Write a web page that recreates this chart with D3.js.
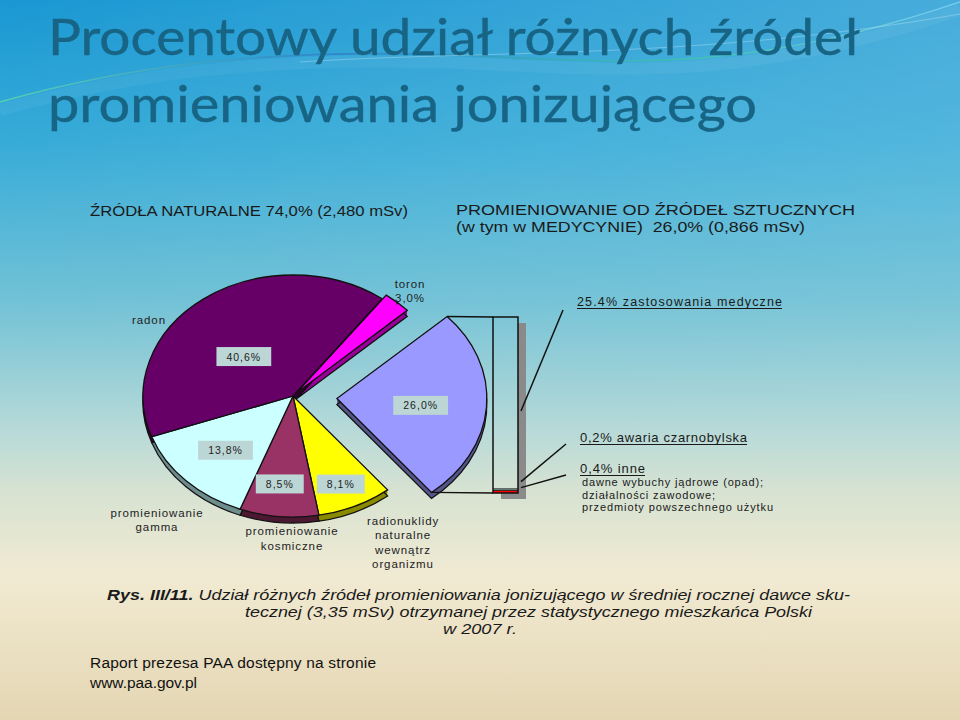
<!DOCTYPE html>
<html><head><meta charset="utf-8">
<script src="https://cdn.jsdelivr.net/npm/d3@7"></script>
<style>body{margin:0;background:#fff} svg{display:block}</style>
</head><body>
<svg id="c" width="960" height="720"></svg>
<script>
// ---------- DATA ----------
const titleLines = ["Procentowy udział różnych źródeł", "promieniowania jonizującego"];
const headerLeft = "ŹRÓDŁA NATURALNE 74,0% (2,480 mSv)";
const headerRight = ["PROMIENIOWANIE OD ŹRÓDEŁ SZTUCZNYCH", "(w tym w MEDYCYNIE)  26,0% (0,866 mSv)"];
const categories = ["toron", "sztuczne", "radionuklidy", "kosmiczne", "gamma", "radon"];
const values = [3.0, 26.0, 8.1, 8.5, 13.8, 40.6];
const valueLabels = ["3,0%", "26,0%", "8,1%", "8,5%", "13,8%", "40,6%"];
const outerNames = [["toron", "3,0%"], [], ["radionuklidy", "naturalne", "wewnątrz", "organizmu"],
                    ["promieniowanie", "kosmiczne"], ["promieniowanie", "gamma"], ["radon"]];
const barCategories = ["inne", "awaria", "medyczne"];
const barValues = [0.4, 0.2, 25.4];
const barLabels = ["0,4% inne", "0,2% awaria czarnobylska", "25.4% zastosowania medyczne"];
const inneDetails = ["dawne wybuchy jądrowe (opad);", "działalności zawodowe;", "przedmioty powszechnego użytku"];
const captionBold = "Rys. III/11.";
const captionLines = [" Udział różnych źródeł promieniowania jonizującego w średniej rocznej dawce sku-",
                      "tecznej (3,35 mSv) otrzymanej przez statystycznego mieszkańca Polski",
                      "w 2007 r."];
const footerLines = ["Raport prezesa PAA dostępny na stronie", "www.paa.gov.pl"];

// ---------- STYLE / LAYOUT ----------
const W = 960, H = 720;
const FONT = "'Liberation Sans', Arial, sans-serif";
const sliceColors = ["#ff00ff", "#9999ff", "#ffff00", "#993366", "#ccffff", "#660066"];
const sideColors  = ["#990099", "#55558a", "#8a8a00", "#4a1830", "#6e8c8c", "#330033"];
const explode = [6, 44, 0, 0, 0, 0];
const barColors = ["#ff0000", "#ccffff", "none"];

const svg = d3.select("#c");
const defs = svg.append("defs");

// background
const bg = defs.append("linearGradient").attr("id", "bg").attr("x1", 0).attr("y1", 0).attr("x2", 0).attr("y2", 1);
[[0, "#1a98d3"], [0.2, "#38acd8"], [0.42, "#72c2d6"], [0.6, "#b8dad8"], [0.68, "#d6e2d2"],
 [0.8, "#f1ead2"], [1, "#e4d6b3"]].forEach(([o, c]) => bg.append("stop").attr("offset", o).attr("stop-color", c));
svg.append("rect").attr("width", W).attr("height", H).attr("fill", "url(#bg)");
const hg = defs.append("linearGradient").attr("id", "hg").attr("x1", 0).attr("y1", 0).attr("x2", 1).attr("y2", 0);
hg.append("stop").attr("offset", 0).attr("stop-color", "#fff").attr("stop-opacity", 0);
hg.append("stop").attr("offset", 1).attr("stop-color", "#fff").attr("stop-opacity", 0.2);
const vm = defs.append("linearGradient").attr("id", "vm").attr("x1", 0).attr("y1", 0).attr("x2", 0).attr("y2", 1);
vm.append("stop").attr("offset", 0).attr("stop-color", "#fff");
vm.append("stop").attr("offset", 1).attr("stop-color", "#000");
defs.append("mask").attr("id", "topmask").append("rect").attr("width", W).attr("height", 450).attr("fill", "url(#vm)");
svg.append("rect").attr("width", W).attr("height", 450).attr("fill", "url(#hg)").attr("mask", "url(#topmask)");

// swoosh
const sw = defs.append("linearGradient").attr("id", "sw").attr("x1", 0).attr("y1", 0).attr("x2", 1).attr("y2", 0);
[[0, "#5fd6b0"], [0.35, "#2f7fc8"], [0.7, "#3cc3a8"], [1, "#7fd0f0"]].forEach(([o, c]) => sw.append("stop").attr("offset", o).attr("stop-color", c));
svg.append("path").attr("d", "M0,110 C120,76 260,54 480,64 C640,72 760,78 960,10")
  .attr("fill", "none").attr("stroke", "#ffffff").attr("stroke-opacity", 0.05).attr("stroke-width", 12);
svg.append("path").attr("d", "M0,102 C120,68 260,46 480,56 C640,64 760,70 960,2")
  .attr("fill", "none").attr("stroke", "url(#sw)").attr("stroke-width", 1.6).attr("opacity", 0.85);
svg.append("path").attr("d", "M300,62 C480,50 700,60 960,14")
  .attr("fill", "none").attr("stroke", "#bfe6f5").attr("stroke-width", 1).attr("opacity", 0.4);

function fit(sel, w, adj) { sel.attr("textLength", w).attr("lengthAdjust", adj || "spacingAndGlyphs"); return sel; }

// title
const titleY = [55, 122], titleW = [812, 709];
titleLines.forEach((t, i) => {
  fit(svg.append("text").attr("x", 48).attr("y", titleY[i]).attr("font-family", "Lato, 'Open Sans', sans-serif")
    .attr("font-size", 51).attr("fill", "#186485").attr("stroke", "#186485").attr("stroke-width", 0.4).text(t), titleW[i]);
});

// headers
fit(svg.append("text").attr("x", 90).attr("y", 216).attr("font-family", FONT).attr("font-size", 14.5)
  .attr("fill", "#1a1a1a").text(headerLeft), 318);
[[215, 399], [232, 349]].forEach(([y, w], i) => {
  fit(svg.append("text").attr("x", 456).attr("y", y).attr("font-family", FONT).attr("font-size", 14.5)
    .attr("fill", "#1a1a1a").attr("xml:space", "preserve").text(headerRight[i]), w);
});

// ---------- PIE ----------
const cx = 293, cy = 396, rx = 150, ry = 121, depth = 6, k = ry / rx;
const a0 = 36.5 * Math.PI / 180;
const pie = d3.pie().sort(null).value(d => d).startAngle(a0).endAngle(a0 + 2 * Math.PI);
const arcs = pie(values);
const arc = d3.arc().innerRadius(0).outerRadius(rx);
const mid = d => (d.startAngle + d.endAngle) / 2;
const off = (d, i) => [explode[i] * Math.sin(mid(d)), -explode[i] * Math.cos(mid(d))];

const sideG = svg.append("g");
for (let t = 1; t <= depth; t++) {
  const g = sideG.append("g").attr("transform", `translate(${cx},${cy + t}) scale(1,${k})`);
  g.selectAll("path").data(arcs).join("path")
    .attr("transform", (d, i) => `translate(${off(d, i)})`)
    .attr("d", arc).attr("fill", (d, i) => sideColors[i])
    .attr("stroke", t === depth ? "#111" : "none").attr("stroke-width", 1.2)
    .attr("vector-effect", "non-scaling-stroke");
}
const topG = svg.append("g").attr("transform", `translate(${cx},${cy}) scale(1,${k})`);
topG.selectAll("path").data(arcs).join("path")
  .attr("transform", (d, i) => `translate(${off(d, i)})`)
  .attr("d", arc).attr("fill", (d, i) => sliceColors[i])
  .attr("stroke", "#111").attr("stroke-width", 1.3).attr("vector-effect", "non-scaling-stroke");

// point on slice i at angle a and radius fraction f (screen coords)
function pt(i, a, f) {
  const o = off(arcs[i], i);
  return [cx + o[0] + f * rx * Math.sin(a), cy + k * o[1] - f * ry * Math.cos(a)];
}

// value boxes
const boxLayout = [null, {f: 0.56, dy: 2}, {f: 0.8, dy: 0, dx: -2}, {f: 0.73, dy: 0, dx: -3}, {f: 0.64, dy: 0, dx: 1}, {f: 0.55, dy: 14, dx: 0}];
arcs.forEach((d, i) => {
  const L = boxLayout[i]; if (!L) return;
  const p = pt(i, mid(d), L.f);
  const x = p[0] + (L.dx || 0), y = p[1] + (L.dy || 0);
  const g = svg.append("g");
  const t = g.append("text").attr("x", x).attr("y", y + 4).attr("text-anchor", "middle")
    .attr("font-family", FONT).attr("font-size", 10.5).attr("letter-spacing", 1).attr("fill", "#222").text(valueLabels[i]);
  const w = t.node().getComputedTextLength();
  g.insert("rect", "text").attr("x", x - w / 2 - 10).attr("y", y - 9.5).attr("width", w + 20).attr("height", 19)
    .attr("fill", "#bcd6d6");
});

// outer category labels
const nameLayout = [
  {x: 410, y: 288, lh: 14}, null,
  {x: 403, y: 525, lh: 14.3}, {x: 292, y: 535, lh: 14.5}, {x: 157, y: 517, lh: 14}, {x: 149, y: 324, lh: 14}
];
outerNames.forEach((lines, i) => {
  const L = nameLayout[i]; if (!L) return;
  lines.forEach((s, j) => {
    svg.append("text").attr("x", L.x).attr("y", L.y + j * L.lh).attr("text-anchor", "middle")
      .attr("font-family", FONT).attr("font-size", 11.5).attr("letter-spacing", 0.9).attr("fill", "#222").text(s);
  });
});
// toron leader
{
  const p = pt(0, mid(arcs[0]), 1.0);
  svg.append("line").attr("x1", 397).attr("y1", 302).attr("x2", p[0]).attr("y2", p[1] + 2)
    .attr("stroke", "#111").attr("stroke-width", 1.2);
}

// ---------- BAR OF PIE ----------
const barX = 493, barW = 25, barTop = 317, barBottom = 493, sh = [8, 6];
const total = d3.sum(barValues);
const yb = d3.scaleLinear().domain([0, total]).range([barBottom, barTop]);
let cum = 0;
const segs = barValues.map((v, i) => { const s = {i, y0: cum, y1: cum + v, v}; cum += v; return s; });

// series lines from exploded slice to bar
const si = 1;
const tipTop = pt(si, arcs[si].startAngle, 1), tipBot = pt(si, arcs[si].endAngle, 1);
svg.append("line").attr("x1", tipTop[0]).attr("y1", tipTop[1]).attr("x2", barX).attr("y2", yb(total))
  .attr("stroke", "#111").attr("stroke-width", 1.3);
svg.append("line").attr("x1", tipBot[0]).attr("y1", tipBot[1]).attr("x2", barX).attr("y2", yb(0))
  .attr("stroke", "#111").attr("stroke-width", 1.3);

// shadow (L shape)
const sx0 = barX + barW, sy0 = yb(total) + sh[1], sx1 = barX + barW + sh[0], sy1 = yb(0) + sh[1];
svg.append("path").attr("d", `M${sx0},${sy0}H${sx1}V${sy1}H${barX + sh[0]}V${yb(0)}H${sx0}Z`).attr("fill", "#8a8a8a");
svg.selectAll("rect.seg").data(segs).join("rect").attr("class", "seg")
  .attr("x", barX).attr("width", barW).attr("y", d => yb(d.y1)).attr("height", d => yb(d.y0) - yb(d.y1))
  .attr("fill", d => barColors[d.i]);
svg.selectAll("line.sep").data(segs.slice(1)).join("line").attr("class", "sep")
  .attr("x1", barX).attr("x2", barX + barW).attr("y1", d => yb(d.y0)).attr("y2", d => yb(d.y0))
  .attr("stroke", "#111").attr("stroke-width", 1);
svg.append("rect").attr("x", barX).attr("y", yb(total)).attr("width", barW).attr("height", yb(0) - yb(total))
  .attr("fill", "none").attr("stroke", "#111").attr("stroke-width", 1.5);

// bar labels + leaders
const barLabelLayout = [
  {x: 580, y: 473, w: 65, fs: 13}, {x: 580, y: 442, w: 167, fs: 13}, {x: 577, y: 306, w: 205, fs: 12.5}
];
segs.forEach(s => {
  const L = barLabelLayout[s.i];
  const t = svg.append("text").attr("x", L.x).attr("y", L.y).attr("font-family", FONT).attr("font-size", L.fs)
    .attr("fill", "#1a1a1a").text(barLabels[s.i]);
  fit(t, L.w, "spacing");
  svg.append("line").attr("x1", L.x).attr("x2", L.x + L.w).attr("y1", L.y + 2.5).attr("y2", L.y + 2.5)
    .attr("stroke", "#1a1a1a").attr("stroke-width", 1.2);
  const ym = s.i === 2 ? (yb(s.y0) + yb(s.y1)) / 2 + 8 : (yb(s.y0) + yb(s.y1)) / 2 - (s.i === 1 ? 8 : 4);
  svg.append("line").attr("x1", barX + barW + 3).attr("y1", ym).attr("x2", L.x - 14).attr("y2", L.y + 2 + (s.i === 2 ? 2 : 0))
    .attr("stroke", "#111").attr("stroke-width", 1.5);
});
const detW = [181, 133, 191];
inneDetails.forEach((s, j) => {
  fit(svg.append("text").attr("x", 582).attr("y", 486 + j * 12.5).attr("font-family", FONT).attr("font-size", 11)
    .attr("fill", "#1a1a1a").text(s), detW[j], "spacing");
});

// ---------- CAPTION ----------
const cap1 = svg.append("text").attr("x", 107).attr("y", 600).attr("font-family", FONT).attr("font-size", 15)
  .attr("font-style", "italic").attr("fill", "#1a1a1a");
cap1.append("tspan").attr("font-weight", "bold").text(captionBold);
cap1.append("tspan").attr("xml:space", "preserve").text(captionLines[0]);
fit(cap1, 743);
fit(svg.append("text").attr("x", 245).attr("y", 617).attr("font-family", FONT).attr("font-size", 15)
  .attr("font-style", "italic").attr("fill", "#1a1a1a").text(captionLines[1]), 567);
fit(svg.append("text").attr("x", 443).attr("y", 634).attr("font-family", FONT).attr("font-size", 15)
  .attr("font-style", "italic").attr("fill", "#1a1a1a").text(captionLines[2]), 74);

// ---------- FOOTER ----------
[[668, 286], [688, 107]].forEach(([y, w], i) => {
  fit(svg.append("text").attr("x", 90).attr("y", y).attr("font-family", FONT).attr("font-size", 15.5)
    .attr("fill", "#111").text(footerLines[i]), w, "spacing");
});
</script>
</body></html>
